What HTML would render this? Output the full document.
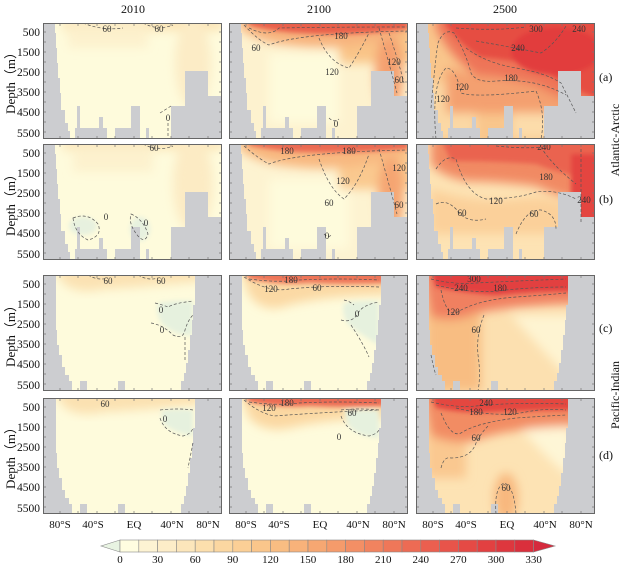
<!DOCTYPE html>
<html><head><meta charset="utf-8"><style>
html,body{margin:0;padding:0;background:#fff;}
svg{display:block;font-family:"Liberation Serif",serif;}
</style></head><body>
<svg width="624" height="565" viewBox="0 0 624 565" xmlns="http://www.w3.org/2000/svg">
<defs>
<clipPath id="cp"><rect x="0" y="0" width="179" height="116"/></clipPath>
<filter id="bl" x="-30%" y="-30%" width="160%" height="160%"><feGaussianBlur stdDeviation="5"/></filter>
<filter id="bs" x="-30%" y="-30%" width="160%" height="160%"><feGaussianBlur stdDeviation="2.5"/></filter>
<g id="matl" fill="#cccdd0">
<path d="M0,0H12V10H13V25H14V40H15V55H17V70H18V87H22V100H25V108H27V116H0Z"/>
<path d="M32,116V105H34V83H37V105H56V94H60V105H64V116Z"/>
<path d="M72,116V105H88V83H97V116Z"/>
<path d="M103,116V105H106V116Z"/>
<path d="M128,116V83H142V48H165V73H179V116Z"/>
</g>
<g id="mpac" fill="#cccdd0">
<path d="M0,0H13V55H14V70H16V80H19V92H22V100H26V106H29V116H0Z"/>
<path d="M37,116V106H44V116Z"/>
<path d="M75,116V106H82V116Z"/>
<path d="M152,0H179V116H138V106H141V98H143V88H145V75H147V60H149V45H150V30H152Z"/>
</g>
<g id="ticks" stroke="#777" stroke-width="0.7">
<path d="M17,0v3M35,0v3M54,0v3M72,0v3M91,0v3M109,0v3M128,0v3M146,0v3M165,0v3M17,116v-3M35,116v-3M54,116v-3M72,116v-3M91,116v-3M109,116v-3M128,116v-3M146,116v-3M165,116v-3"/>
<path d="M0,9h3M0,19h3M0,29h3M0,39h3M0,49h3M0,59h3M0,69h3M0,79h3M0,89h3M0,99h3M0,109h3M179,9h-3M179,19h-3M179,29h-3M179,39h-3M179,49h-3M179,59h-3M179,69h-3M179,79h-3M179,89h-3M179,99h-3M179,109h-3"/>
</g>
<g id="frame"><rect x="0.5" y="0.5" width="178" height="115" fill="none" stroke="#666" stroke-width="1"/></g>
</defs>

<g font-size="12" fill="#111" text-anchor="middle">
<text x="133" y="13">2010</text><text x="319" y="13">2100</text><text x="505" y="13">2500</text>
</g>

<g font-size="11.5" fill="#111" text-anchor="end">
<g id="ylab">
<text x="40" y="36">500</text><text x="40" y="56">1500</text><text x="40" y="76">2500</text><text x="40" y="96">3500</text><text x="40" y="116">4500</text><text x="40" y="137">5500</text>
</g>
<use href="#ylab" y="121"/><use href="#ylab" y="252"/><use href="#ylab" y="375"/>
</g>
<g font-size="13" fill="#111" text-anchor="middle">
<text transform="translate(15,80) rotate(-90)">Depth（m）</text>
<text transform="translate(15,202) rotate(-90)">Depth（m）</text>
<text transform="translate(15,333) rotate(-90)">Depth（m）</text>
<text transform="translate(15,455) rotate(-90)">Depth（m）</text>
</g>

<!-- ROW a -->
<g transform="translate(43,23)"><g clip-path="url(#cp)">
<rect width="179" height="116" fill="#fefbdc"/>
<g filter="url(#bl)">
<rect x="20" y="-8" width="160" height="16" fill="#fbe5b8"/>
<rect x="25" y="-5" width="80" height="30" fill="#fcefcb" opacity="0.8"/>
<ellipse cx="150" cy="40" rx="18" ry="45" fill="#fcecc6"/>
</g>
<use href="#matl"/>
<path d="M40,0 Q60,8 80,5 M100,0 Q115,8 130,2" fill="none" stroke="#555" stroke-width="0.7" stroke-dasharray="3,2"/>
<path d="M117,90 Q125,85 128,83 M125,100 V116" fill="none" stroke="#555" stroke-width="0.7" stroke-dasharray="3,2"/>
<g font-size="9" fill="#333" text-anchor="middle"><text x="64" y="9">60</text><text x="116" y="9">60</text><text x="125" y="98">0</text></g>
</g><use href="#ticks"/><use href="#frame"/></g>

<g transform="translate(229,23)"><g clip-path="url(#cp)">
<rect width="179" height="116" fill="#fdf2cf"/>
<g filter="url(#bl)">
<rect x="40" y="30" width="70" height="70" fill="#fefbdc"/>
<rect x="110" y="-10" width="75" height="50" fill="#f9c588"/>
<ellipse cx="160" cy="50" rx="14" ry="40" fill="#f4a070"/>
<path d="M10,-10 H179 V10 Q120,30 60,22 Q30,20 10,5Z" fill="#f7b27d"/>
</g>
<g filter="url(#bs)"><path d="M20,-5 H179 V6 Q120,14 70,10 Q40,8 20,2Z" fill="#e9604c"/></g>
<use href="#matl"/>
<g fill="none" stroke="#555" stroke-width="0.7" stroke-dasharray="3,2">
<path d="M15,2 Q30,18 40,22 Q70,10 179,8"/>
<path d="M20,5 Q40,15 50,5 Q100,4 179,4"/>
<path d="M90,15 Q100,40 120,45 Q130,30 140,10"/>
<path d="M150,5 Q160,40 168,70 M160,10 Q170,40 175,60"/>
<path d="M100,95 Q105,100 110,96"/>
</g>
<g font-size="9" fill="#333" text-anchor="middle"><text x="27" y="28">60</text><text x="112" y="16">180</text><text x="103" y="52">120</text><text x="170" y="60">60</text><text x="107" y="104">0</text><text x="165" y="42">120</text></g>
</g><use href="#ticks"/><use href="#frame"/></g>

<g transform="translate(416,23)"><g clip-path="url(#cp)">
<rect width="179" height="116" fill="#f9c68c"/>
<g filter="url(#bl)">
<path d="M10,60 H60 V116 H10Z" fill="#fbd8a4"/>
<path d="M95,70 H135 V116 H95Z" fill="#fcdcaa"/>
<path d="M30,45 Q70,55 100,58 Q130,60 150,75 H179 V90 H30Z" fill="#f4a070"/>
<path d="M20,-10 H190 V85 Q150,80 120,62 Q90,55 60,52 Q35,35 20,5Z" fill="#ee7459"/>
</g>
<g filter="url(#bs)">
<path d="M28,-5 H190 V78 Q150,65 120,42 Q90,36 65,34 Q45,22 30,2Z" fill="#e64d43"/>
<ellipse cx="140" cy="28" rx="45" ry="24" fill="#e23d3e"/>
</g>
<use href="#matl"/>
<g fill="none" stroke="#555" stroke-width="0.7" stroke-dasharray="3,2">
<path d="M15,85 Q20,30 22,20 Q28,5 38,10 Q50,30 55,50 Q60,60 80,58 Q120,55 150,72"/>
<path d="M20,116 Q15,60 30,45 Q40,45 45,70 Q60,75 120,68 Q130,90 125,116"/>
<path d="M50,25 Q70,40 100,45 Q130,50 145,60 Q155,80 160,90"/>
<path d="M40,5 Q80,8 110,4 M60,18 Q100,25 125,30 Q140,20 150,3"/>
</g>
<g font-size="9" fill="#333" text-anchor="middle"><text x="120" y="9">300</text><text x="163" y="9">240</text><text x="102" y="28">240</text><text x="95" y="58">180</text><text x="46" y="67">120</text><text x="27" y="79">120</text></g>
</g><use href="#ticks"/><use href="#frame"/></g>

<!-- ROW b -->
<g transform="translate(43,144)"><g clip-path="url(#cp)">
<rect width="179" height="116" fill="#fefbdc"/>
<g filter="url(#bl)">
<rect x="20" y="-8" width="160" height="14" fill="#fbe6ba"/>
<rect x="30" y="0" width="80" height="28" fill="#fcefcb" opacity="0.8"/>
<ellipse cx="150" cy="40" rx="20" ry="48" fill="#fcebc4"/>
</g>
<g filter="url(#bs)">
<ellipse cx="40" cy="82" rx="14" ry="9" fill="#e7f1df"/>
<ellipse cx="97" cy="85" rx="10" ry="12" fill="#e7f1df"/>
</g>
<use href="#matl"/>
<g fill="none" stroke="#555" stroke-width="0.7" stroke-dasharray="3,2">
<path d="M100,0 Q115,8 130,2"/>
<path d="M30,74 Q45,68 55,80 Q60,92 45,96 Q32,90 30,74Z"/>
<path d="M88,70 Q100,75 105,90 Q102,100 95,92 Q85,80 88,70Z"/>
</g>
<g font-size="9" fill="#333" text-anchor="middle"><text x="111" y="7">60</text><text x="63" y="76">0</text><text x="103" y="82">0</text></g>
</g><use href="#ticks"/><use href="#frame"/></g>

<g transform="translate(229,144)"><g clip-path="url(#cp)">
<rect width="179" height="116" fill="#fdf3d1"/>
<g filter="url(#bl)">
<rect x="40" y="35" width="80" height="70" fill="#fefbdc"/>
<rect x="110" y="-10" width="75" height="55" fill="#fac98f"/>
<ellipse cx="162" cy="50" rx="13" ry="40" fill="#f5a572"/>
<path d="M10,-10 H179 V10 Q120,30 60,22 Q30,20 10,5Z" fill="#f8b880"/>
</g>
<g filter="url(#bs)"><path d="M20,-5 H179 V5 Q120,10 70,8 Q40,6 20,1Z" fill="#eb6a52"/></g>
<use href="#matl"/>
<g fill="none" stroke="#555" stroke-width="0.7" stroke-dasharray="3,2">
<path d="M15,2 Q30,15 40,20 Q70,8 179,6"/>
<path d="M90,15 Q100,45 115,55 Q130,40 140,10"/>
<path d="M150,5 Q160,40 168,70"/>
<path d="M95,90 Q100,95 103,90"/>
</g>
<g font-size="9" fill="#333" text-anchor="middle"><text x="58" y="10">180</text><text x="120" y="10">180</text><text x="114" y="40">120</text><text x="170" y="27">120</text><text x="100" y="62">60</text><text x="170" y="64">60</text><text x="98" y="95">0</text></g>
</g><use href="#ticks"/><use href="#frame"/></g>

<g transform="translate(416,144)"><g clip-path="url(#cp)">
<rect width="179" height="116" fill="#fde3b4"/>
<g filter="url(#bl)">
<path d="M15,45 Q60,60 100,55 Q130,50 150,60 V90 H15Z" fill="#fbd09a"/>
<path d="M15,-10 H190 V62 Q150,57 120,42 Q80,37 50,37 Q25,32 15,20Z" fill="#f18a63"/>
</g>
<g filter="url(#bs)">
<path d="M25,-5 H190 V37 Q150,32 120,20 Q80,17 35,17Z" fill="#ea6450"/>
<path d="M155,10 H185 V85 H155Z" fill="#e4453f"/>
</g>
<use href="#matl"/>
<g fill="none" stroke="#555" stroke-width="0.7" stroke-dasharray="3,2">
<path d="M20,25 Q30,10 40,15 Q50,50 70,55 Q100,55 120,48 Q140,45 160,55"/>
<path d="M20,60 Q30,55 40,65 Q50,80 70,75 M100,90 Q110,65 125,66 Q140,70 140,85"/>
<path d="M80,2 Q110,5 125,3 Q135,20 160,40 M165,5 V80"/>
</g>
<g font-size="9" fill="#333" text-anchor="middle"><text x="128" y="6">240</text><text x="130" y="36">180</text><text x="168" y="59">240</text><text x="80" y="60">120</text><text x="46" y="72">60</text><text x="118" y="73">60</text></g>
</g><use href="#ticks"/><use href="#frame"/></g>

<!-- ROW c -->
<g transform="translate(43,275)"><g clip-path="url(#cp)">
<rect width="179" height="116" fill="#fefbdc"/>
<g filter="url(#bl)"><path d="M10,-8 H160 V6 Q100,12 60,14 Q35,20 20,8Z" fill="#fbe2b3"/></g>
<g filter="url(#bs)"><path d="M115,28 Q130,25 150,26 V60 Q135,62 120,50 Q112,40 115,28Z" fill="#e6f1de"/></g>
<use href="#mpac"/>
<g fill="none" stroke="#555" stroke-width="0.7" stroke-dasharray="3,2">
<path d="M45,0 Q55,6 65,3 M95,0 Q105,6 115,3"/>
<path d="M112,28 Q120,30 125,32 Q132,28 150,26 M108,48 Q120,50 130,60 Q140,65 142,55 Q145,45 150,40 M142,62 V85"/>
</g>
<g font-size="9" fill="#333" text-anchor="middle"><text x="65" y="9">60</text><text x="118" y="9">60</text><text x="118" y="38">0</text><text x="119" y="58">0</text></g>
</g><use href="#ticks"/><use href="#frame"/></g>

<g transform="translate(229,275)"><g clip-path="url(#cp)">
<rect width="179" height="116" fill="#fefbdc"/>
<g filter="url(#bl)"><path d="M10,-8 H160 V20 Q100,20 60,30 Q35,40 20,20Z" fill="#fbd9a4"/></g>
<g filter="url(#bs)">
<path d="M15,-5 H160 V8 Q120,10 80,8 Q50,10 20,4Z" fill="#ee7459"/>
<path d="M115,28 Q130,25 150,26 V70 Q135,62 120,50 Q112,40 115,28Z" fill="#e6f1de"/>
</g>
<use href="#mpac"/>
<g fill="none" stroke="#555" stroke-width="0.7" stroke-dasharray="3,2">
<path d="M15,2 Q40,18 60,14 Q100,10 150,12 M20,4 Q50,8 70,5 Q110,3 150,5"/>
<path d="M115,25 Q120,26 125,30 M112,45 Q122,48 128,40 Q132,30 150,27 M122,50 Q135,70 140,82"/>
</g>
<g font-size="9" fill="#333" text-anchor="middle"><text x="62" y="8">180</text><text x="42" y="17">120</text><text x="88" y="16">60</text><text x="128" y="42">0</text></g>
</g><use href="#ticks"/><use href="#frame"/></g>

<g transform="translate(416,275)"><g clip-path="url(#cp)">
<rect width="179" height="116" fill="#fce0b0"/>
<g filter="url(#bl)">
<path d="M95,40 H160 V110 Q130,80 95,40Z" fill="#fef4d2"/>
<path d="M10,20 H65 V116 H10Z" fill="#f8bd82"/>
<path d="M5,-10 H170 V28 Q100,30 60,38 Q40,48 15,42Z" fill="#f08060"/>
</g>
<g filter="url(#bs)"><path d="M15,-5 H160 V16 Q120,16 80,20 Q50,18 20,12Z" fill="#e2413f"/></g>
<use href="#mpac"/>
<g fill="none" stroke="#555" stroke-width="0.7" stroke-dasharray="3,2">
<path d="M15,4 Q40,10 60,8 Q100,6 150,4 M20,10 Q60,20 90,15 Q120,12 150,12"/>
<path d="M25,15 Q30,40 40,38 Q60,25 100,22 Q130,20 150,18"/>
<path d="M68,40 Q60,60 62,80 Q65,100 62,116 M15,80 Q18,95 20,100"/>
</g>
<g font-size="9" fill="#333" text-anchor="middle"><text x="58" y="7">300</text><text x="45" y="16">240</text><text x="84" y="16">180</text><text x="37" y="40">120</text><text x="60" y="58">60</text></g>
</g><use href="#ticks"/><use href="#frame"/></g>

<!-- ROW d -->
<g transform="translate(43,398)"><g clip-path="url(#cp)">
<rect width="179" height="116" fill="#fefbdc"/>
<g filter="url(#bl)"><path d="M10,-8 H160 V6 Q100,12 60,14 Q35,20 20,8Z" fill="#fbe1b1"/></g>
<g filter="url(#bs)"><path d="M118,12 Q135,10 150,12 V38 Q130,35 120,25Z" fill="#e6f1de"/></g>
<use href="#mpac"/>
<g fill="none" stroke="#555" stroke-width="0.7" stroke-dasharray="3,2">
<path d="M117,12 Q135,10 150,12 M117,20 Q122,35 140,38 Q148,36 150,30 M150,45 Q148,55 145,70"/>
</g>
<g font-size="9" fill="#333" text-anchor="middle"><text x="62" y="9">60</text><text x="122" y="24">0</text></g>
</g><use href="#ticks"/><use href="#frame"/></g>

<g transform="translate(229,398)"><g clip-path="url(#cp)">
<rect width="179" height="116" fill="#fefbdc"/>
<g filter="url(#bl)"><path d="M10,-8 H160 V20 Q100,20 60,30 Q35,35 20,20Z" fill="#fbd8a2"/></g>
<g filter="url(#bs)">
<path d="M15,-5 H160 V8 Q120,10 80,8 Q50,10 20,4Z" fill="#ec6b53"/>
<path d="M115,12 Q135,10 150,12 V40 Q125,38 118,25Z" fill="#e6f1de"/>
</g>
<use href="#mpac"/>
<g fill="none" stroke="#555" stroke-width="0.7" stroke-dasharray="3,2">
<path d="M15,2 Q30,15 45,18 Q100,14 150,12 M20,4 Q50,8 70,5 Q110,3 150,5"/>
<path d="M112,12 Q130,10 150,12 M112,18 Q118,35 140,38 Q148,36 150,32"/>
</g>
<g font-size="9" fill="#333" text-anchor="middle"><text x="40" y="13">120</text><text x="58" y="8">180</text><text x="123" y="18">60</text><text x="110" y="42">0</text></g>
</g><use href="#ticks"/><use href="#frame"/></g>

<g transform="translate(416,398)"><g clip-path="url(#cp)">
<rect width="179" height="116" fill="#fde3b4"/>
<g filter="url(#bl)">
<path d="M100,25 H155 V80 Q130,60 100,25Z" fill="#fef6d6"/>
<path d="M10,20 H50 V80 H10Z" fill="#fac890"/>
<ellipse cx="90" cy="100" rx="12" ry="25" fill="#f8b87e"/>
<path d="M5,-10 H170 V28 Q100,28 60,42 Q40,48 15,38Z" fill="#f28c64"/>
</g>
<g filter="url(#bs)"><path d="M15,-5 H160 V12 Q120,12 80,14 Q50,16 20,10Z" fill="#e4473f"/></g>
<use href="#mpac"/>
<g fill="none" stroke="#555" stroke-width="0.7" stroke-dasharray="3,2">
<path d="M15,4 Q40,10 60,8 Q100,4 150,6 M40,10 Q80,20 110,14 Q130,10 150,12"/>
<path d="M25,15 Q35,40 45,35 Q60,25 100,20 Q130,18 150,17"/>
<path d="M25,70 Q28,58 35,60 Q55,60 60,45 Q65,35 72,28 M80,116 Q78,90 88,85 Q98,88 100,116"/>
</g>
<g font-size="9" fill="#333" text-anchor="middle"><text x="70" y="8">240</text><text x="60" y="17">180</text><text x="94" y="17">120</text><text x="60" y="43">60</text><text x="90" y="93">60</text></g>
</g><use href="#ticks"/><use href="#frame"/></g>

<g font-size="11" fill="#111" text-anchor="middle">
<g id="xlab"><text x="60" y="528">80°S</text><text x="93" y="528">40°S</text><text x="134" y="528">EQ</text><text x="172" y="528">40°N</text><text x="208" y="528">80°N</text></g>
<use href="#xlab" x="186"/><use href="#xlab" x="373"/>
</g>

<g font-size="12" fill="#111">
<text x="599" y="81">(a)</text><text x="599" y="203">(b)</text><text x="599" y="332">(c)</text><text x="599" y="459">(d)</text>
<text transform="translate(619,140) rotate(-90)" text-anchor="middle">Atlantic-Arctic</text>
<text transform="translate(619,395) rotate(-90)" text-anchor="middle">Pacific-Indian</text>
</g>

<g stroke="#888" stroke-width="0.6">
<path d="M120,540 L101,546 L120,552Z" fill="#e8f3e2"/>
<rect x="120.0" y="540" width="18.8" height="12" fill="#fffde0"/>
<rect x="138.8" y="540" width="18.8" height="12" fill="#fdf3d3"/>
<rect x="157.6" y="540" width="18.8" height="12" fill="#fdedc8"/>
<rect x="176.4" y="540" width="18.8" height="12" fill="#fce6bb"/>
<rect x="195.2" y="540" width="18.8" height="12" fill="#fcdfad"/>
<rect x="214.0" y="540" width="18.8" height="12" fill="#fbd7a1"/>
<rect x="232.8" y="540" width="18.8" height="12" fill="#fbcf96"/>
<rect x="251.6" y="540" width="18.8" height="12" fill="#fac68b"/>
<rect x="270.4" y="540" width="18.8" height="12" fill="#f9bd82"/>
<rect x="289.2" y="540" width="18.8" height="12" fill="#f8b27a"/>
<rect x="308.0" y="540" width="18.8" height="12" fill="#f6a772"/>
<rect x="326.8" y="540" width="18.8" height="12" fill="#f59b6b"/>
<rect x="345.6" y="540" width="18.8" height="12" fill="#f38f65"/>
<rect x="364.4" y="540" width="18.8" height="12" fill="#f1835f"/>
<rect x="383.2" y="540" width="18.8" height="12" fill="#ef7759"/>
<rect x="402.0" y="540" width="18.8" height="12" fill="#ed6b54"/>
<rect x="420.8" y="540" width="18.8" height="12" fill="#eb5f4f"/>
<rect x="439.6" y="540" width="18.8" height="12" fill="#e8544a"/>
<rect x="458.4" y="540" width="18.8" height="12" fill="#e54a45"/>
<rect x="477.2" y="540" width="18.8" height="12" fill="#e24041"/>
<rect x="496.0" y="540" width="18.8" height="12" fill="#de373e"/>
<rect x="514.8" y="540" width="18.8" height="12" fill="#da2f3c"/>
<path d="M533.6,540 L555,546 L533.6,552Z" fill="#d52a3d"/>
</g>
<g font-size="11" fill="#111" text-anchor="middle">
<text x="120" y="563">0</text><text x="157.6" y="563">30</text><text x="195.2" y="563">60</text><text x="232.8" y="563">90</text><text x="270.4" y="563">120</text><text x="308" y="563">150</text><text x="345.6" y="563">180</text><text x="383.2" y="563">210</text><text x="420.8" y="563">240</text><text x="458.4" y="563">270</text><text x="496" y="563">300</text><text x="533.6" y="563">330</text>
</g>
</svg>
</body></html>
